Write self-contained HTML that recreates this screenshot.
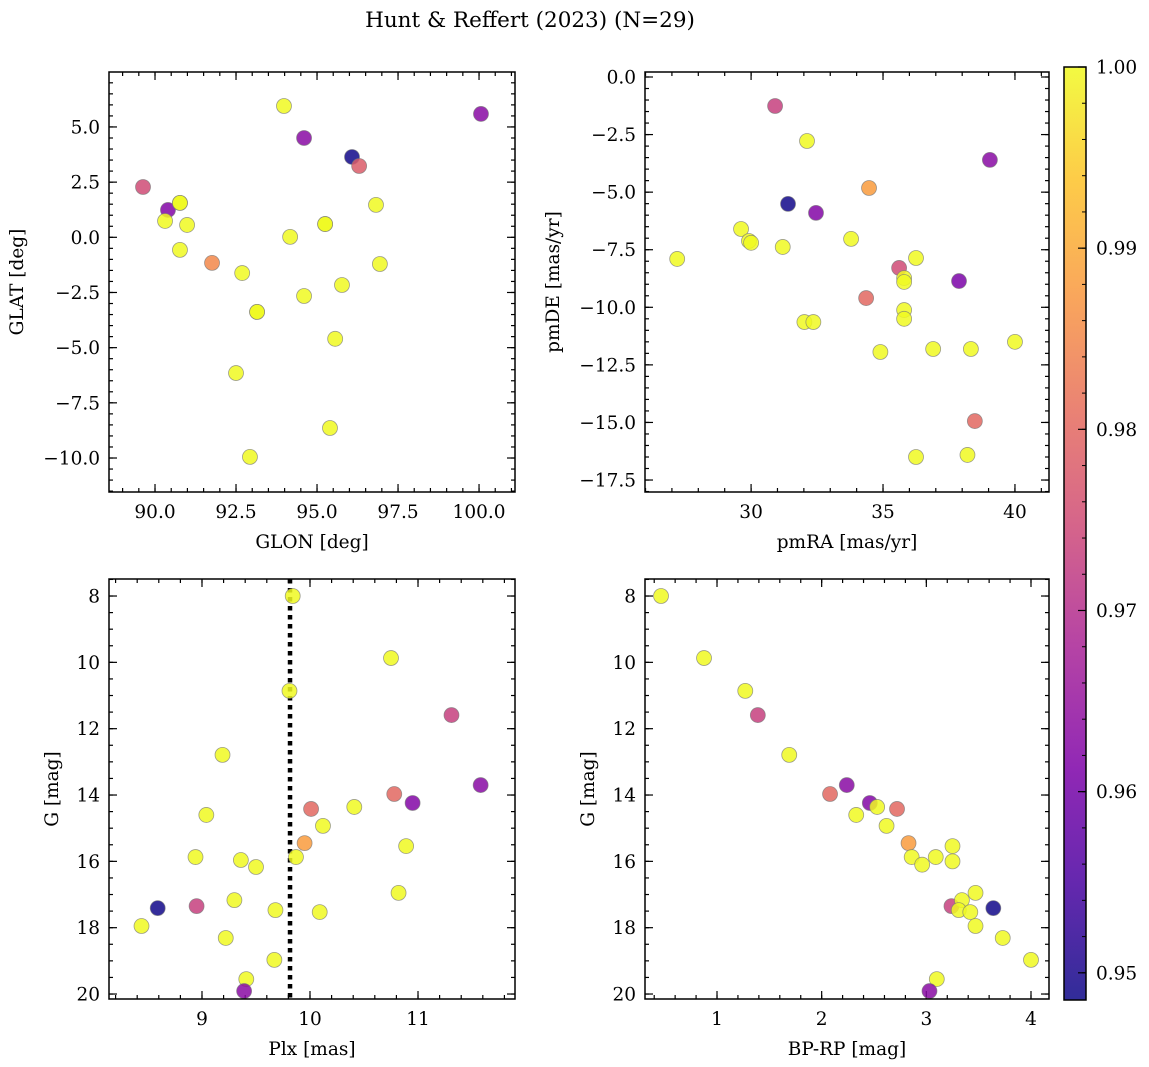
<!DOCTYPE html>
<html><head><meta charset="utf-8">
<style>
body{margin:0;background:#fff;}
svg{display:block;font-family:"DejaVu Serif","Liberation Serif",serif;}
</style></head>
<body>
<svg id="fig" width="1149" height="1067" viewBox="0 0 1149 1067" xmlns="http://www.w3.org/2000/svg">
<defs>
<linearGradient id="plasma" x1="0" y1="1" x2="0" y2="0">
<stop offset="0" stop-color="#0d0887"/><stop offset="0.13" stop-color="#4c02a1"/>
<stop offset="0.25" stop-color="#7e03a8"/><stop offset="0.38" stop-color="#a92395"/>
<stop offset="0.5" stop-color="#cc4778"/><stop offset="0.63" stop-color="#e66c5c"/>
<stop offset="0.75" stop-color="#f89540"/><stop offset="0.88" stop-color="#fdc328"/>
<stop offset="1" stop-color="#f0f921"/>
</linearGradient>
</defs>
<text x="530" y="27" font-size="21.5" text-anchor="middle">Hunt &amp; Reffert (2023) (N=29)</text>
</svg>
<script>
// Panel 1: GLON vs GLAT
const p1Glon=[89.63,90.4,90.77,90.77,90.31,90.99,90.77,91.76,92.69,92.5,92.93,93.15,93.15,93.98,94.17,94.6,94.6,95.25,95.25,95.56,95.4,95.77,96.08,96.3,96.82,96.94,100.06];
const p1Glat=[2.28,1.24,1.56,1.56,0.74,0.56,-0.57,-1.16,-1.62,-6.15,-9.95,-3.38,-3.38,5.95,0.02,4.5,-2.66,0.6,0.6,-4.6,-8.64,-2.16,3.64,3.23,1.47,-1.21,5.59];
const p1Prob=[0.975,0.962,1,1,1,1,1,0.985,1,1,1,1,1,1,1,0.963,1,1,1,1,1,1,0.949,0.978,1,1,0.963];
// Panel 2: pmRA vs pmDE
const p2Pmra=[30.91,32.12,39.05,34.47,31.4,32.46,29.62,29.92,30.0,31.2,33.79,36.25,27.2,35.61,35.8,35.8,37.88,34.36,35.8,35.8,32.02,32.36,34.9,36.9,38.33,40.0,38.48,38.2,36.25];
const p2Pmde=[-1.26,-2.78,-3.6,-4.82,-5.51,-5.9,-6.6,-7.12,-7.2,-7.38,-7.03,-7.86,-7.9,-8.29,-8.73,-8.9,-8.86,-9.6,-10.12,-10.5,-10.64,-10.64,-11.94,-11.81,-11.81,-11.5,-14.94,-16.41,-16.5];
const p2Prob=[0.973,1,0.963,0.988,0.949,0.962,1,1,1,1,1,1,1,0.975,1,1,0.961,0.98,1,1,1,1,1,1,1,1,0.98,1,1];
// Panel 3: Plx vs G
const p3Plx=[9.84,10.75,9.81,11.31,9.19,11.58,9.04,10.78,10.01,10.95,10.41,10.12,9.95,10.89,8.94,9.87,9.36,9.5,10.82,8.59,8.95,9.3,9.68,10.09,8.44,9.22,9.67,9.41,9.39];
const p3G=[8.0,9.87,10.86,11.59,12.79,13.7,14.6,13.97,14.42,14.24,14.36,14.93,15.45,15.54,15.87,15.87,15.96,16.17,16.95,17.41,17.35,17.17,17.47,17.53,17.95,18.31,18.97,19.55,19.91];
const p3Prob=[1,1,1,0.973,1,0.963,1,0.98,0.98,0.962,1,1,0.988,1,1,1,1,1,1,0.949,0.973,1,1,1,1,1,1,1,0.963];
const plxLine=9.815;
// Panel 4: BP-RP vs G
const p4Bprp=[0.465,0.876,1.27,1.39,1.69,2.24,2.08,2.46,2.53,2.33,2.72,2.62,2.83,3.25,2.86,3.09,2.96,3.25,3.47,3.24,3.34,3.31,3.42,3.64,3.47,3.73,4.0,3.1,3.03];
const p4G=[8.0,9.87,10.86,11.59,12.79,13.7,13.97,14.24,14.36,14.6,14.42,14.93,15.45,15.54,15.87,15.87,16.1,16.0,16.95,17.35,17.17,17.47,17.53,17.41,17.95,18.31,18.97,19.55,19.91];
const p4Prob=[1,1,1,0.973,1,0.963,0.98,0.962,1,1,0.98,1,0.988,1,1,1,1,1,1,0.973,1,1,1,0.949,1,1,1,1,0.963];
const cbTicks=[0.95,0.96,0.97,0.98,0.99,1.00];
const cbMin=0.9485, cbMax=1.0;

const NS="http://www.w3.org/2000/svg";
const svg=document.getElementById('fig');
const FS=18.5;
function mk(tag,attrs,parent){const e=document.createElementNS(NS,tag);for(const k in attrs)e.setAttribute(k,attrs[k]);(parent||svg).appendChild(e);return e;}
const stops=[[0,[13,8,135]],[0.13,[76,2,161]],[0.25,[126,3,168]],[0.38,[169,35,149]],[0.5,[204,71,120]],[0.63,[230,108,92]],[0.75,[248,149,64]],[0.88,[253,195,40]],[1,[240,249,33]]];
function cmap(v){let t=(v-cbMin)/(cbMax-cbMin);t=Math.max(0,Math.min(1,t));
 for(let i=1;i<stops.length;i++){if(t<=stops[i][0]){const a=stops[i-1],b=stops[i];const f=(t-a[0])/(b[0]-a[0]);
  const c=a[1].map((x,j)=>Math.round(x+(b[1][j]-x)*f));return `rgb(${c[0]},${c[1]},${c[2]})`;}}
 return 'rgb(240,249,33)';}
function fmt(v,d){return v.toFixed(d);}
function panel(o){
 const g=mk('g',{});
 
 
 const {x0,x1,y0,y1}=o;
 const sx=v=>x0+(v-o.xmin)/(o.xmax-o.xmin)*(x1-x0);
 const sy=o.invert? (v=>y0+(v-o.ymin)/(o.ymax-o.ymin)*(y1-y0)) : (v=>y1-(v-o.ymin)/(o.ymax-o.ymin)*(y1-y0));
 const eps=1e-9;
 function ticksX(step,len,lab){for(let v=Math.ceil(o.xmin/step-eps)*step;v<=o.xmax+eps;v+=step){const x=sx(v);
   mk('line',{x1:x,x2:x,y1:y1,y2:y1-len,stroke:'#000','stroke-width':1.2},g);
   mk('line',{x1:x,x2:x,y1:y0,y2:y0+len,stroke:'#000','stroke-width':1.2},g);
   if(lab){const t=mk('text',{x:x,y:y1+26,'font-size':FS,'text-anchor':'middle'},g);t.textContent=fmt(v,o.xdec);
     }}}
 function ticksY(step,len,lab){for(let v=Math.ceil(o.ymin/step-eps)*step;v<=o.ymax+eps;v+=step){const y=sy(v);
   mk('line',{x1:x0,x2:x0+len,y1:y,y2:y,stroke:'#000','stroke-width':1.2},g);
   mk('line',{x1:x1,x2:x1-len,y1:y,y2:y,stroke:'#000','stroke-width':1.2},g);
   if(lab){const t=mk('text',{x:x0-9,y:y+6.5,'font-size':FS,'text-anchor':'end'},g);t.textContent=fmt(Math.abs(v)<eps?0:v,o.ydec).replace('-','\u2212');
     }}}
 ticksX(o.xminor,4,false);ticksX(o.xmajor,8,true);ticksY(o.yminor,4,false);ticksY(o.ymajor,8,true);
 if(o.vline!==undefined){const l=mk('line',{x1:sx(o.vline),x2:sx(o.vline),y1:y0,y2:y1,stroke:'#000','stroke-width':4.5,'stroke-dasharray':'4.5,4.5'},g);
  }
 for(let i=0;i<o.xs.length;i++){
  const c=mk('circle',{cx:sx(o.xs[i]),cy:sy(o.ys[i]),r:7.5,fill:cmap(o.cs[i]),'fill-opacity':0.85,stroke:'#777','stroke-opacity':0.7,'stroke-width':0.8},g);
  
  
 }
 mk('rect',{x:x0,y:y0,width:x1-x0,height:y1-y0,fill:'none',stroke:'#000','stroke-width':1.5},g);
 const xl=mk('text',{x:(x0+x1)/2,y:y1+56,'font-size':FS,'text-anchor':'middle'},g);xl.textContent=o.xlabel;
 
 const yx=o.ylx, yy=(y0+y1)/2;
 const yl=mk('text',{x:yx,y:yy,'font-size':FS,'text-anchor':'middle',transform:`rotate(-90 ${yx} ${yy})`},g);yl.textContent=o.ylabel;
 
}
panel({name:'glon-glat-panel',x0:109,x1:515,y0:72,y1:492,xmin:88.58,xmax:101.11,ymin:-11.54,ymax:7.49,xmajor:2.5,xminor:0.5,ymajor:2.5,yminor:0.5,xdec:1,ydec:1,xs:p1Glon,ys:p1Glat,cs:p1Prob,xlabel:'GLON [deg]',ylabel:'GLAT [deg]',ylx:23});
panel({name:'pm-panel',x0:645,x1:1049,y0:72,y1:492,xmin:25.98,xmax:41.29,ymin:-18.02,ymax:0.217,xmajor:5,xminor:1,ymajor:2.5,yminor:0.5,xdec:0,ydec:1,xs:p2Pmra,ys:p2Pmde,cs:p2Prob,xlabel:'pmRA [mas/yr]',ylabel:'pmDE [mas/yr]',ylx:559});
panel({name:'plx-g-panel',x0:109,x1:515,y0:579,y1:999,xmin:8.139,xmax:11.898,ymin:7.487,ymax:20.15,invert:true,xmajor:1,xminor:0.2,ymajor:2,yminor:0.5,xdec:0,ydec:0,xs:p3Plx,ys:p3G,cs:p3Prob,xlabel:'Plx [mas]',ylabel:'G [mag]',ylx:58,vline:plxLine});
panel({name:'cmd-panel',x0:645,x1:1049,y0:579,y1:999,xmin:0.312,xmax:4.172,ymin:7.487,ymax:20.15,invert:true,xmajor:1,xminor:0.2,ymajor:2,yminor:0.5,xdec:0,ydec:0,xs:p4Bprp,ys:p4G,cs:p4Prob,xlabel:'BP-RP [mag]',ylabel:'G [mag]',ylx:594});
const cb=mk('g',{});


const cbx0=1064,cbx1=1086,cby0=67,cby1=1000;
mk('rect',{x:cbx0,y:cby0,width:cbx1-cbx0,height:cby1-cby0,fill:'url(#plasma)','fill-opacity':0.85,stroke:'#000','stroke-width':1.5},cb);
const cy=v=>cby1-(v-cbMin)/(cbMax-cbMin)*(cby1-cby0);
for(let v=0.95;v<=1.0001;v+=0.002){mk('line',{x1:cbx1,x2:cbx1-4,y1:cy(v),y2:cy(v),stroke:'#000','stroke-width':1},cb);}
cbTicks.forEach(v=>{const y=cy(v);mk('line',{x1:cbx1,x2:cbx1-8,y1:y,y2:y,stroke:'#000','stroke-width':1.2},cb);
 const t=mk('text',{x:cbx1+10,y:y+6.5,'font-size':FS},cb);t.textContent=v.toFixed(2);
 });
</script>
</body></html>
